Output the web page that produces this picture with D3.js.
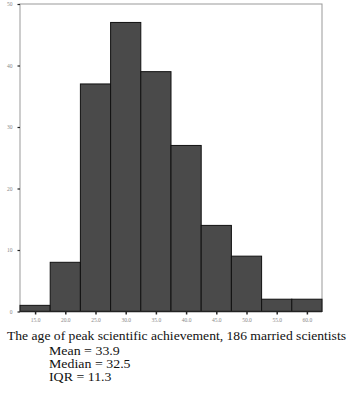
<!DOCTYPE html>
<html><head><meta charset="utf-8">
<script src="https://cdn.jsdelivr.net/npm/d3@7"></script>
<style>body{margin:0;background:#fff}svg{display:block}</style>
</head><body>
<svg id="c" width="350" height="395"></svg>
<script>
const binCenters = [15, 20, 25, 30, 35, 40, 45, 50, 55, 60];
const counts = [1, 8, 37, 47, 39, 27, 14, 9, 2, 2];
const xTickLabels = ["15.0","20.0","25.0","30.0","35.0","40.0","45.0","50.0","55.0","60.0"];
const yTicks = [0, 10, 20, 30, 40, 50];
const captionLines = ["Mean = 33.9", "Median = 32.5", "IQR = 11.3"];
const title = "The age of peak scientific achievement, 186 married scientists";

const svg = d3.select("#c");
const L = 20, R = 322, T = 4, B = 311.5;
const x = d3.scaleLinear().domain([12.5, 62.5]).range([L, R]);
const y = d3.scaleLinear().domain([0, 50]).range([B, T]);

// frame
svg.append("rect").attr("x", L).attr("y", T).attr("width", R - L).attr("height", B - T)
  .attr("fill", "none").attr("stroke", "#999").attr("stroke-width", 1);

svg.selectAll("rect.bar").data(counts).join("rect").attr("class", "bar")
  .attr("x", (d, i) => x(binCenters[i] - 2.5))
  .attr("y", d => y(d))
  .attr("width", (d, i) => x(binCenters[i] + 2.5) - x(binCenters[i] - 2.5))
  .attr("height", d => y(0) - y(d))
  .attr("fill", "#4a4a4a").attr("stroke", "#111").attr("stroke-width", 1);

// bottom axis line
svg.append("line").attr("x1", L).attr("x2", R).attr("y1", B).attr("y2", B)
  .attr("stroke", "#222").attr("stroke-width", 1.5);

// x ticks
const xa = svg.append("g").attr("transform", `translate(0,${B})`)
  .call(d3.axisBottom(x).tickValues(binCenters).tickSize(3).tickFormat((d, i) => xTickLabels[i]));
xa.select(".domain").remove();
xa.selectAll("line").attr("stroke", "#222").attr("stroke-width", 1.5);
xa.selectAll("text").attr("font-family", "Liberation Serif").attr("font-size", 5.5).attr("fill", "#888").attr("dy", "0.9em");

// y ticks
const ya = svg.append("g").attr("transform", `translate(${L},0)`)
  .call(d3.axisLeft(y).tickValues(yTicks).tickSize(2.5).tickPadding(5).tickFormat(d3.format("d")));
ya.select(".domain").remove();
ya.selectAll("line").attr("stroke", "#222").attr("stroke-width", 1.2);
ya.selectAll("text").attr("font-family", "Liberation Serif").attr("font-size", 5.5).attr("fill", "#888");

svg.append("text").attr("x", 7).attr("y", 339.5).attr("font-family", "Liberation Serif")
  .attr("font-size", 13.5).attr("fill", "#111").attr("textLength", 339).attr("lengthAdjust", "spacingAndGlyphs").text(title);
svg.selectAll("text.cap").data(captionLines).join("text").attr("class", "cap")
  .attr("x", 49).attr("y", (d, i) => 355 + i * 13)
  .attr("font-family", "Liberation Serif").attr("font-size", 13).attr("fill", "#111")
  .attr("transform", "translate(49,0) scale(1.07,1) translate(-49,0)")
  .text(d => d);
</script>
</body></html>
